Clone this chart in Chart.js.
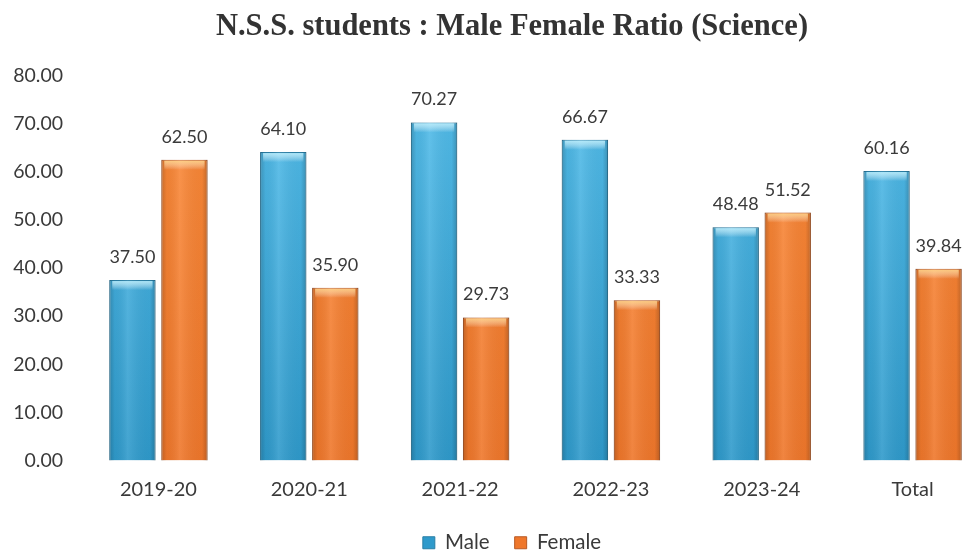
<!DOCTYPE html>
<html>
<head>
<meta charset="utf-8">
<script src="https://cdn.jsdelivr.net/npm/chart.js@4.4.1/dist/chart.umd.min.js"></script>
<style>
  html, body { margin: 0; padding: 0; background: #fff; overflow: hidden; }
  #wrap { width: 1024px; height: 553px; }
</style>
</head>
<body>
<div id="wrap"><canvas id="myChart" width="1024" height="553"></canvas></div>
<script>
var years = ['2019-20', '2020-21', '2021-22', '2022-23', '2023-24', 'Total']
var male = [37.50, 64.10, 70.27, 66.67, 48.48, 60.16]
var female = [62.50, 35.90, 29.73, 33.33, 51.52, 39.84]
var yTicks = [0, 10, 20, 30, 40, 50, 60, 70, 80]

var textColor = '#3a3a3a'
var myChart

// vertical fill, a bit lighter near the top like the excel bars
function vFill(topCol, bottomCol, flat) {
    return (c) => {
        const area = c.chart.chartArea
        if (!area) return flat
        const g = c.chart.ctx.createLinearGradient(0, area.top, 0, area.bottom)
        g.addColorStop(0, topCol)
        g.addColorStop(1, bottomCol)
        return g
    }
}

// shading on top of each bar to get the glossy look
var barShade = {
    id: 'barShade',
    afterDatasetsDraw(chart) {
        const ctx = chart.ctx
        chart.data.datasets.forEach((ds, di) => {
            const meta = chart.getDatasetMeta(di)
            const light = di == 0 ? 'rgba(185,238,252,0.95)' : 'rgba(255,214,130,0.9)'
            meta.data.forEach((bar) => {
                const left = bar.x - bar.width / 2
                const right = bar.x + bar.width / 2
                const top = bar.y
                const h = bar.base - bar.y
                ctx.save()
                var g = ctx.createLinearGradient(left, 0, right, 0)
                g.addColorStop(0, 'rgba(0,0,0,0.20)')
                g.addColorStop(0.12, 'rgba(0,0,0,0.04)')
                g.addColorStop(0.4, 'rgba(255,255,255,0.10)')
                g.addColorStop(0.88, 'rgba(0,0,0,0.03)')
                g.addColorStop(1, 'rgba(0,0,0,0.22)')
                ctx.fillStyle = g
                ctx.fillRect(left, top, bar.width, h)
                // top bevel
                var gt = ctx.createLinearGradient(0, top, 0, top + 10)
                gt.addColorStop(0, light)
                gt.addColorStop(1, 'rgba(255,255,255,0)')
                ctx.fillStyle = gt
                ctx.fillRect(left + 3, top + 1, bar.width - 6, 10)
                ctx.restore()
            })
        })
    }
}

// value labels above bars
var valueLabels = {
    id: 'valueLabels',
    afterDatasetsDraw(chart) {
        const ctx = chart.ctx
        ctx.save()
        ctx.font = '18px Lato'
        ctx.fillStyle = textColor
        ctx.textAlign = 'center'
        ctx.textBaseline = 'alphabetic'
        chart.data.datasets.forEach((ds, di) => {
            chart.getDatasetMeta(di).data.forEach((bar, i) => {
                ctx.fillText(ds.data[i].toFixed(2), bar.x, bar.y - 17)
            })
        })
        ctx.restore()
    }
}

function drawChart() {
    const ctxC = document.getElementById('myChart')
    myChart = new Chart(ctxC, {
        type: 'bar',
        data: {
            labels: years,
            datasets: [
                {
                    label: 'Male',
                    data: male,
                    backgroundColor: vFill('#55bfec', '#2f9acb', '#3aa7d6'),
                    borderColor: '#2a7fa6',
                    borderWidth: 1,
                    categoryPercentage: 0.69,
                    barPercentage: 0.89
                },
                {
                    label: 'Female',
                    data: female,
                    backgroundColor: vFill('#fb8b3a', '#ef772b', '#f7802f'),
                    borderColor: '#b85a24',
                    borderWidth: 1,
                    categoryPercentage: 0.69,
                    barPercentage: 0.89
                }
            ]
        },
        options: {
            responsive: false,
            animation: false,
            layout: { padding: { left: 12, right: 12, top: 0, bottom: -10 } },
            plugins: {
                title: {
                    display: true,
                    text: 'N.S.S. students : Male Female Ratio (Science)',
                    color: '#333',
                    font: { family: 'Liberation Serif', size: 30.5, weight: 'bold' },
                    padding: { top: 9, bottom: 30 }
                },
                legend: {
                    position: 'bottom',
                    labels: {
                        color: textColor,
                        font: { family: 'Lato', size: 20.5, lineHeight: 1 },
                        boxWidth: 12,
                        boxHeight: 12,
                        padding: 25
                    }
                },
                tooltip: { enabled: false }
            },
            scales: {
                x: {
                    grid: { display: false, drawTicks: false, tickLength: 0 },
                    border: { display: false },
                    ticks: {
                        color: textColor,
                        font: { family: 'Lato', size: 20 },
                        padding: 17
                    },
                    afterFit: (axis) => { axis.height = 47 }
                },
                y: {
                    min: 0,
                    max: 80,
                    afterBuildTicks: (axis) => {
                        axis.ticks = yTicks.map(v => ({ value: v }))
                    },
                    grid: { display: false, drawTicks: false, tickLength: 0 },
                    border: { display: false },
                    ticks: {
                        color: textColor,
                        font: { family: 'Lato', size: 19.5 },
                        padding: 20,
                        callback: (v) => v.toFixed(2)
                    },
                    afterFit: (axis) => { axis.width = 71 }
                },
                // empty spacer on the right so the plot sits like the original
                y2: {
                    position: 'right',
                    min: 0,
                    max: 80,
                    grid: { display: false, drawTicks: false, tickLength: 0 },
                    border: { display: false },
                    ticks: { display: false },
                    afterFit: (axis) => { axis.width = 24 }
                }
            }
        },
        plugins: [barShade, valueLabels]
    })
}

Promise.all([
    document.fonts.load('20px Lato'),
    document.fonts.load('bold 30px "Liberation Serif"')
]).then(drawChart, drawChart)
</script>
</body>
</html>
